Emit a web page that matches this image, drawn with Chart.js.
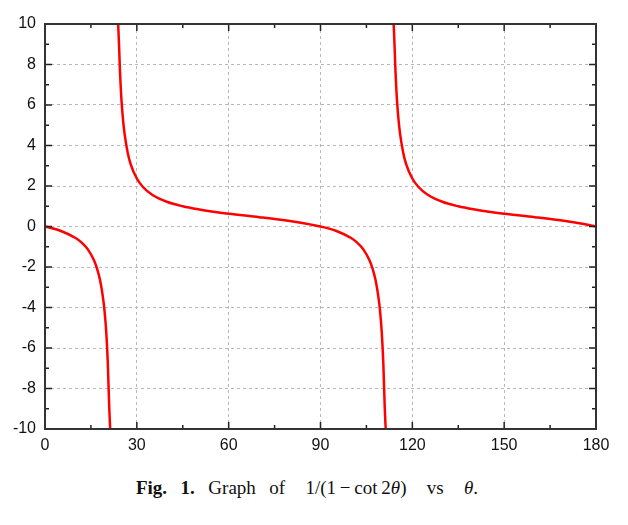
<!DOCTYPE html>
<html>
<head>
<meta charset="utf-8">
<script src="https://cdn.jsdelivr.net/npm/chart.js@4"></script>
<style>
  body { margin: 0; background: #fff; }
  #wrap { position: relative; width: 628px; height: 525px; }
  #plot { position: absolute; left: 0; top: 0; }
  #caption {
    position: absolute; left: 0; width: 614px; top: 477px; text-align: center;
    font-family: "Liberation Serif", "DejaVu Serif", serif; font-size: 19px; color: #111;
    word-spacing: 2px;
  }
  #caption b { font-weight: bold; }
  #caption i { font-style: italic; }
</style>
</head>
<body>
<div id="wrap">
  <canvas id="plot" width="628" height="462"></canvas>
  <div id="caption"><b>Fig.&nbsp; 1.</b>&nbsp; Graph&nbsp; of&nbsp;&nbsp; 1/(1&thinsp;&#8722;&thinsp;cot&thinsp;2<i>&theta;</i>)&nbsp;&nbsp; vs&nbsp;&nbsp; <i>&theta;</i>.</div>
</div>
<script>
// angle (degrees) and value; null breaks the line at the poles
const theta = [
  0, 5, 10, 12, 14, 16, 17, 18, 19, 19.5, 20, 20.5, 21, 21.3,
  22.5,
  23.9, 24.2, 24.5, 25, 25.5, 26, 27, 28, 30, 32, 35, 40, 45, 50, 55, 60, 70, 80, 85,
  90, 95, 100, 102, 104, 106, 107, 108, 109, 109.5, 110, 110.5, 111, 111.3,
  112.5,
  113.9, 114.2, 114.5, 115, 115.5, 116, 117, 118, 120, 122, 125, 130, 135, 140, 145, 150, 160, 170, 175, 180
];
const value = [
  0, -0.21, -0.57, -0.80, -1.13, -1.67, -2.08, -2.66, -3.57, -4.24, -5.20, -6.66, -9.0, -10,
  null,
  10, 8.9, 7.65, 6.2, 5.25, 4.57, 3.66, 3.07, 2.37, 1.95, 1.57, 1.21, 1.0, 0.85, 0.73, 0.63, 0.46, 0.27, 0.15,
  0, -0.21, -0.57, -0.80, -1.13, -1.67, -2.08, -2.66, -3.57, -4.24, -5.20, -6.66, -9.0, -10,
  null,
  10, 8.9, 7.65, 6.2, 5.25, 4.57, 3.66, 3.07, 2.37, 1.95, 1.57, 1.21, 1.0, 0.85, 0.73, 0.63, 0.46, 0.27, 0.15, 0
];
const xTicks = [0, 30, 60, 90, 120, 150, 180];
const yTicks = [-10, -8, -6, -4, -2, 0, 2, 4, 6, 8, 10];

const points = theta.map((t, i) => ({ x: t, y: value[i] }));

// frame and inward ticks (major + minor)
const frame = {
  id: 'frame',
  afterDraw(chart) {
    const { ctx, chartArea: a, scales: { x, y } } = chart;
    ctx.save();
    ctx.strokeStyle = '#222';
    ctx.lineWidth = 1.5;
    ctx.beginPath();
    for (let v = 0; v <= 180; v += 15) {
      const px = x.getPixelForValue(v);
      const len = v % 30 === 0 ? 7 : 4;
      ctx.moveTo(px, a.bottom); ctx.lineTo(px, a.bottom - len);
      ctx.moveTo(px, a.top); ctx.lineTo(px, a.top + len);
    }
    for (let v = -10; v <= 10; v += 1) {
      const py = y.getPixelForValue(v);
      const len = v % 2 === 0 ? 7 : 4;
      ctx.moveTo(a.left, py); ctx.lineTo(a.left + len, py);
      ctx.moveTo(a.right, py); ctx.lineTo(a.right - len, py);
    }
    ctx.stroke();
    ctx.strokeStyle = '#333';
    ctx.lineWidth = 2;
    ctx.strokeRect(a.left, a.top, a.right - a.left, a.bottom - a.top);
    ctx.restore();
  }
};

new Chart(document.getElementById('plot'), {
  type: 'line',
  data: {
    datasets: [{
      data: points,
      borderColor: '#ff0000',
      borderWidth: 2.5,
      pointRadius: 0,
      spanGaps: false,
      cubicInterpolationMode: 'monotone',
      clip: 2
    }]
  },
  options: {
    responsive: false,
    animation: false,
    layout: { padding: { top: 24, right: 32, left: 0, bottom: 0 } },
    plugins: { legend: { display: false }, tooltip: { enabled: false } },
    scales: {
      x: {
        type: 'linear', min: 0, max: 180,
        afterBuildTicks: s => { s.ticks = xTicks.map(v => ({ value: v })); },
        afterFit: s => { s.height = 33; },
        ticks: { color: '#111', font: { family: 'Liberation Sans, Arial, sans-serif', size: 16 }, padding: 7, maxRotation: 0 },
        grid: { color: '#b8b8b8', lineWidth: 1, drawTicks: false },
        border: { display: false, dash: [3, 3] }
      },
      y: {
        min: -10, max: 10,
        afterBuildTicks: s => { s.ticks = yTicks.map(v => ({ value: v })); },
        afterFit: s => { s.width = 45; },
        ticks: { color: '#111', font: { family: 'Liberation Sans, Arial, sans-serif', size: 16 }, padding: 9 },
        grid: { color: '#b8b8b8', lineWidth: 1, drawTicks: false },
        border: { display: false, dash: [3, 3] }
      }
    }
  },
  plugins: [frame]
});
</script>
</body>
</html>
